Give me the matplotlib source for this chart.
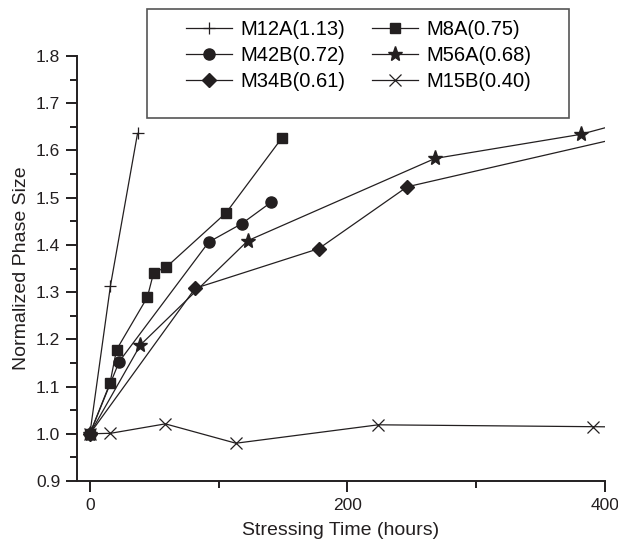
import matplotlib
matplotlib.use("Agg")
import matplotlib.pyplot as plt
from matplotlib.patches import Rectangle

plt.rcParams['font.family'] = ['Liberation Sans', 'DejaVu Sans']

# stressing time (hours) / normalized phase size, one pair per sample
m12a_t = [0, 16, 37]
m12a_v = [1.0, 1.314, 1.636]
m8a_t = [0, 15.6, 20.7, 44.6, 49.5, 59.4, 105.8, 149]
m8a_v = [1.0, 1.107, 1.178, 1.289, 1.341, 1.353, 1.468, 1.626]
m42b_t = [0, 22.8, 92.3, 118, 140.6]
m42b_v = [1.0, 1.153, 1.406, 1.445, 1.490]
m56a_t = [0, 39.2, 122.7, 268, 381, 430]
m56a_v = [1.0, 1.188, 1.409, 1.583, 1.634, 1.670]
m34b_t = [0, 81.7, 177.7, 246.4, 430]
m34b_v = [1.0, 1.308, 1.392, 1.523, 1.638]
m15b_t = [0, 16, 58.6, 113.4, 224, 391, 430]
m15b_v = [1.0, 1.001, 1.021, 0.980, 1.019, 1.015, 1.014]

labels = ['M12A(1.13)', 'M8A(0.75)', 'M42B(0.72)', 'M56A(0.68)', 'M34B(0.61)', 'M15B(0.40)']

x_ticks = [0, 200, 400]
x_minor = [100, 300]

c = '#231f20'

fig = plt.figure(figsize=(6.18, 5.48), dpi=100)
ax = fig.add_axes([77/618, 1 - 481/548, (605 - 77)/618, (481 - 56)/548])

h1, = ax.plot(m12a_t, m12a_v, '-', marker='+', ms=9, mew=0.9, color=c, lw=0.9)
h2, = ax.plot(m8a_t, m8a_v, '-', marker='s', ms=7, color=c, lw=0.9)
h3, = ax.plot(m42b_t, m42b_v, '-', marker='o', ms=8, color=c, lw=0.9)
h4, = ax.plot(m56a_t, m56a_v, '-', marker='*', ms=11, color=c, lw=0.9)
h5, = ax.plot(m34b_t, m34b_v, '-', marker='D', ms=7.5, color=c, lw=0.9)
h6, = ax.plot(m15b_t, m15b_v, '-', marker='x', ms=9, mew=0.9, color=c, lw=0.9)
for h, lab in zip([h1, h2, h3, h4, h5, h6], labels):
    h.set_label(lab)

ax.set_xlim(-10, 400)
ax.set_ylim(0.9, 1.8)
ax.set_xticks(x_ticks)
ax.set_xticks(x_minor, minor=True)
ax.set_yticks([0.9 + 0.1 * i for i in range(10)])
ax.set_yticks([0.95 + 0.1 * i for i in range(9)], minor=True)
ax.yaxis.set_major_formatter(matplotlib.ticker.FormatStrFormatter('%.1f'))

for s in ['top', 'right']:
    ax.spines[s].set_visible(False)
for s in ['left', 'bottom']:
    ax.spines[s].set_linewidth(1.4)
    ax.spines[s].set_color(c)
ax.tick_params(which='major', direction='out', length=8, width=1.4, labelsize=12.5, colors=c)
ax.tick_params(which='minor', direction='out', length=5, width=1.4, colors=c)
ax.tick_params(axis='x', pad=4)
ax.tick_params(axis='y', pad=4)

ax.set_xlabel('Stressing Time (hours)', fontsize=14, labelpad=7, color=c)
ax.set_ylabel('Normalized Phase Size', fontsize=14, labelpad=4, color=c)

# legend box is bigger than its content in the original
fig.patches.append(Rectangle((147/618, 1 - 118/548), 422/618, 109/548,
                             transform=fig.transFigure, fill=False,
                             edgecolor='#555555', lw=1.2))
ax.legend(handles=[h1, h3, h5, h2, h4, h6], ncol=2, frameon=False,
          loc='upper left', bbox_to_anchor=(186/618, 1 - 20/548),
          bbox_transform=fig.transFigure, borderpad=0, borderaxespad=0,
          handlelength=2.3, handletextpad=0.4, columnspacing=1.3,
          labelspacing=0.35, fontsize=14.5)

fig.savefig('out.png', dpi=100)
